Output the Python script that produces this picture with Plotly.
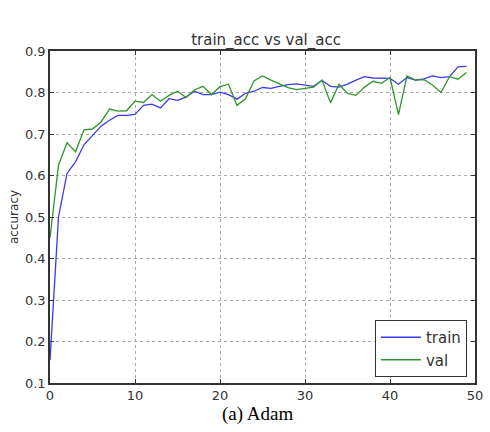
import plotly.graph_objects as go

epochs = list(range(50))
train_acc = [0.155, 0.50, 0.605, 0.633, 0.674, 0.697, 0.719, 0.733, 0.745, 0.745,
             0.747, 0.769, 0.772, 0.763, 0.785, 0.781, 0.789, 0.803, 0.795, 0.795,
             0.801, 0.795, 0.784, 0.798, 0.803, 0.812, 0.810, 0.815, 0.819, 0.821,
             0.818, 0.815, 0.829, 0.815, 0.813, 0.820, 0.830, 0.838, 0.835, 0.834,
             0.834, 0.820, 0.836, 0.830, 0.833, 0.840, 0.836, 0.838, 0.862, 0.863]
val_acc = [0.450, 0.625, 0.679, 0.657, 0.710, 0.712, 0.729, 0.760, 0.755, 0.756,
           0.779, 0.776, 0.795, 0.779, 0.793, 0.803, 0.788, 0.806, 0.815, 0.795,
           0.814, 0.820, 0.769, 0.785, 0.828, 0.840, 0.830, 0.820, 0.812, 0.807,
           0.810, 0.813, 0.830, 0.775, 0.820, 0.798, 0.793, 0.813, 0.827, 0.822,
           0.836, 0.747, 0.840, 0.830, 0.831, 0.818, 0.800, 0.838, 0.832, 0.848]
x_ticks = [0, 10, 20, 30, 40, 50]
y_ticks = [0.1, 0.2, 0.3, 0.4, 0.5, 0.6, 0.7, 0.8, 0.9]

fig = go.Figure()
fig.add_trace(go.Scatter(x=epochs, y=train_acc, mode="lines", name="train",
                         line=dict(color="#3a3af2", width=1.3)))
fig.add_trace(go.Scatter(x=epochs, y=val_acc, mode="lines", name="val",
                         line=dict(color="#2f962f", width=1.3)))

axis_common = dict(
    showline=True, linecolor="#333333", linewidth=1.5, mirror="ticks",
    ticks="inside", ticklen=4, tickcolor="#333333",
    showgrid=True, gridcolor="#aaaaaa", griddash="dot", gridwidth=1,
    zeroline=False, tickfont=dict(family="DejaVu Sans", size=13, color="#333333"),
)

fig.update_xaxes(range=[0, 50], tickvals=x_ticks, **axis_common)
fig.update_yaxes(range=[0.1, 0.9], tickvals=y_ticks, tickformat=".1f",
                 title=dict(text="accuracy", font=dict(family="DejaVu Sans", size=12, color="#333333"),
                            standoff=4),
                 **axis_common)

fig.update_layout(
    width=490, height=432,
    margin=dict(l=50, r=7, t=51, b=49),
    paper_bgcolor="white", plot_bgcolor="white",
    title=dict(text="train_acc vs val_acc", x=0.543, xanchor="center",
               y=1 - 40 / 432, yanchor="middle", yref="container",
               font=dict(family="DejaVu Sans", size=15, color="#333333")),
    legend=dict(x=0.981, y=0.018, xanchor="right", yanchor="bottom",
                bordercolor="#333333", borderwidth=1, bgcolor="white",
                tracegroupgap=4, itemwidth=40,
                font=dict(family="DejaVu Sans", size=15, color="#333333")),
    showlegend=True,
    annotations=[dict(text="(a) Adam", xref="paper", yref="paper", x=0.489, y=-0.092,
                      xanchor="center", yanchor="middle", showarrow=False,
                      font=dict(family="Liberation Serif", size=19, color="black"))],
)

fig.write_html("out.html")
